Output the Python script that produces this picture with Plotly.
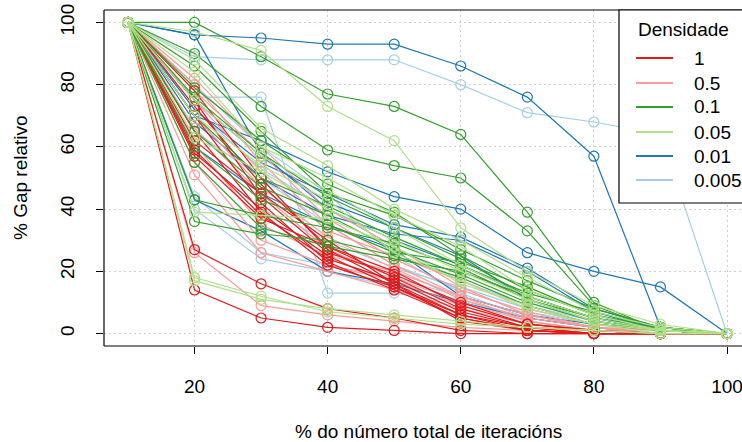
import plotly.graph_objects as go

# ---------------- data ----------------
x_pct = [10, 20, 30, 40, 50, 60, 70, 80, 90, 100]

dens_labels = ["1", "0.5", "0.1", "0.05", "0.01", "0.005"]
dens_colors = ["#E31A1C", "#FB9A99", "#33A02C", "#B2DF8A", "#1F78B4", "#A6CEE3"]

gap_d1 = [
    [100, 14, 5, 2, 1, 0, 0, 0, 0, 0],
    [100, 27, 16, 8, 5, 1, 0, 0, 0, 0],
    [100, 58, 40, 25, 15, 5, 1, 0, 0, 0],
    [100, 59, 38, 24, 17, 7, 2, 0, 0, 0],
    [100, 73, 48, 28, 18, 8, 2, 1, 0, 0],
    [100, 78, 50, 27, 16, 6, 1, 0, 0, 0],
    [100, 75, 44, 26, 19, 10, 3, 1, 0, 0],
    [100, 70, 42, 23, 14, 5, 1, 0, 0, 0],
    [100, 65, 39, 22, 15, 6, 2, 0, 0, 0],
    [100, 57, 37, 28, 20, 9, 3, 1, 0, 0],
    [100, 62, 45, 30, 16, 4, 1, 0, 0, 0],
]
gap_d05 = [
    [100, 26, 9, 6, 4, 2, 1, 0, 0, 0],
    [100, 82, 60, 40, 28, 15, 6, 2, 0, 0],
    [100, 80, 55, 35, 22, 12, 4, 1, 0, 0],
    [100, 51, 26, 20, 14, 8, 3, 1, 0, 0],
    [100, 75, 52, 33, 25, 17, 8, 3, 1, 0],
    [100, 70, 47, 31, 21, 11, 5, 2, 0, 0],
    [100, 66, 45, 27, 18, 10, 4, 1, 0, 0],
    [100, 61, 35, 25, 20, 12, 6, 2, 1, 0],
    [100, 78, 58, 37, 24, 14, 7, 2, 0, 0],
    [100, 55, 30, 22, 17, 9, 3, 1, 0, 0],
]
gap_d01 = [
    [100, 100, 89, 77, 73, 64, 39, 10, 1, 0],
    [100, 90, 73, 59, 54, 50, 33, 9, 1, 0],
    [100, 86, 65, 45, 38, 27, 17, 8, 2, 0],
    [100, 79, 62, 48, 39, 25, 14, 6, 1, 0],
    [100, 76, 58, 44, 34, 24, 12, 5, 1, 0],
    [100, 70, 50, 41, 31, 22, 13, 7, 2, 0],
    [100, 65, 47, 38, 27, 19, 10, 4, 1, 0],
    [100, 60, 43, 35, 26, 23, 15, 6, 2, 0],
    [100, 43, 38, 34, 29, 21, 11, 5, 1, 0],
    [100, 36, 32, 30, 25, 18, 9, 3, 1, 0],
    [100, 55, 34, 28, 24, 20, 12, 5, 1, 0],
]
gap_d005 = [
    [100, 97, 91, 73, 62, 34, 20, 9, 3, 0],
    [100, 17, 11, 8, 6, 4, 2, 1, 0, 0],
    [100, 18, 12, 7, 5, 3, 2, 1, 0, 0],
    [100, 88, 66, 54, 40, 30, 18, 7, 2, 0],
    [100, 84, 60, 50, 38, 28, 14, 6, 1, 0],
    [100, 75, 57, 46, 34, 22, 12, 5, 1, 0],
    [100, 63, 52, 40, 30, 20, 11, 4, 1, 0],
    [100, 39, 38, 37, 28, 16, 9, 3, 0, 0],
    [100, 70, 54, 43, 26, 17, 8, 3, 1, 0],
]
gap_d001 = [
    [100, 96, 95, 93, 93, 86, 76, 57, 2, 0],
    [100, 70, 62, 52, 44, 40, 26, 20, 15, 0],
    [100, 96, 58, 40, 30, 22, 12, 5, 2, 0],
    [100, 72, 55, 45, 35, 31, 21, 8, 2, 0],
    [100, 43, 33, 20, 16, 10, 5, 2, 0, 0],
    [100, 68, 50, 38, 32, 30, 20, 7, 1, 0],
    [100, 60, 45, 35, 27, 12, 6, 3, 1, 0],
    [100, 75, 57, 42, 34, 25, 11, 4, 1, 0],
]
gap_d0005 = [
    [100, 89, 88, 88, 88, 80, 71, 68, 64, 0],
    [100, 76, 76, 13, 13, 10, 5, 2, 1, 0],
    [100, 40, 24, 20, 15, 11, 4, 1, 0, 0],
    [100, 44, 26, 22, 18, 12, 6, 2, 0, 0],
    [100, 65, 50, 35, 22, 14, 7, 3, 1, 0],
    [100, 72, 53, 40, 28, 17, 9, 4, 1, 0],
    [100, 80, 60, 45, 25, 13, 5, 2, 0, 0],
    [100, 58, 40, 30, 21, 15, 8, 3, 1, 0],
]

x_ticks = [20, 40, 60, 80, 100]
y_ticks = [0, 20, 40, 60, 80, 100]
x_title = "% do número total de iteracións"
y_title = "% Gap relativo"
legend_title = "Densidade"

series_by_density = [gap_d1, gap_d05, gap_d01, gap_d005, gap_d001, gap_d0005]

# ---------------- figure ----------------
FONT = "Liberation Sans, Arial, Helvetica, sans-serif"
FS = 19
fig = go.Figure()

draw_order = [5, 4, 1, 0, 2, 3]
for di in draw_order:
    col = dens_colors[di]
    for ys in series_by_density[di]:
        fig.add_trace(go.Scatter(
            x=x_pct, y=ys, mode="lines+markers",
            line=dict(color=col, width=1.2),
            marker=dict(symbol="circle-open", size=10, color=col,
                        line=dict(width=1.2, color=col)),
            showlegend=False, hoverinfo="skip",
        ))

W, H = 742, 442
L, T, B = 104, 10, 96
pw = W - L
ph = H - T - B

def px(xp):
    return (xp - L) / pw

def py(yp):
    return (H - B - yp) / ph

grid_dash = "1.5px,3.5px"
fig.update_layout(
    width=W, height=H,
    margin=dict(l=L, r=0, t=T, b=B),
    paper_bgcolor="white", plot_bgcolor="white",
    font=dict(family=FONT, size=FS, color="black"),
    xaxis=dict(
        range=[6.4, 6.4 + pw / 6.656], tickvals=x_ticks, ticks="outside",
        ticklen=7, tickcolor="black", tickwidth=1,
        showgrid=True, gridcolor="#CFCFCF", griddash=grid_dash, gridwidth=1,
        zeroline=False, showline=False, ticklabelstandoff=16,
        ticklabeloverflow="allow",
        tickfont=dict(size=FS),
    ),
    yaxis=dict(
        range=[-4, 104], tickvals=y_ticks, ticks="outside",
        ticklen=7, tickcolor="black", tickwidth=1, tickangle=-90,
        showgrid=True, gridcolor="#CFCFCF", griddash=grid_dash, gridwidth=1,
        zeroline=False, showline=False, ticklabelstandoff=14,
        ticklabeloverflow="allow",
        tickfont=dict(size=FS),
    ),
)

shapes = []
# plot box (left, bottom, top); right edge lies outside the window
for (x0, y0, x1, y1) in [(0, 0, 1.1, 0), (0, 1, 1.1, 1), (0, 0, 0, 1)]:
    shapes.append(dict(type="line", xref="paper", yref="paper",
                       x0=x0, y0=y0, x1=x1, y1=y1,
                       line=dict(color="black", width=1.2), layer="above"))
# legend box
shapes.append(dict(type="rect", xref="paper", yref="paper",
                   x0=px(619), x1=px(760), y0=py(203), y1=py(10),
                   fillcolor="white", line=dict(color="black", width=1.2),
                   layer="above"))
annotations = [
    dict(x=px(636), y=py(29), xref="paper", yref="paper", text=legend_title,
         showarrow=False, xanchor="left", yanchor="middle",
         font=dict(size=FS)),
    dict(x=px(428), y=py(431), xref="paper", yref="paper", text=x_title,
         showarrow=False, xanchor="center", yanchor="middle",
         font=dict(size=FS)),
    dict(x=px(20), y=py(178), xref="paper", yref="paper", text=y_title,
         showarrow=False, xanchor="center", yanchor="middle", textangle=-90,
         font=dict(size=FS)),
]
row_y = [58, 83, 107, 132, 156, 180]
for lab, col, ry in zip(dens_labels, dens_colors, row_y):
    shapes.append(dict(type="line", xref="paper", yref="paper",
                       x0=px(636), x1=px(673), y0=py(ry), y1=py(ry),
                       line=dict(color=col, width=2), layer="above"))
    annotations.append(dict(x=px(692), y=py(ry), xref="paper", yref="paper",
                            text=lab, showarrow=False, xanchor="left",
                            yanchor="middle", font=dict(size=FS)))

fig.update_layout(shapes=shapes, annotations=annotations)
fig.write_html("out.html")
